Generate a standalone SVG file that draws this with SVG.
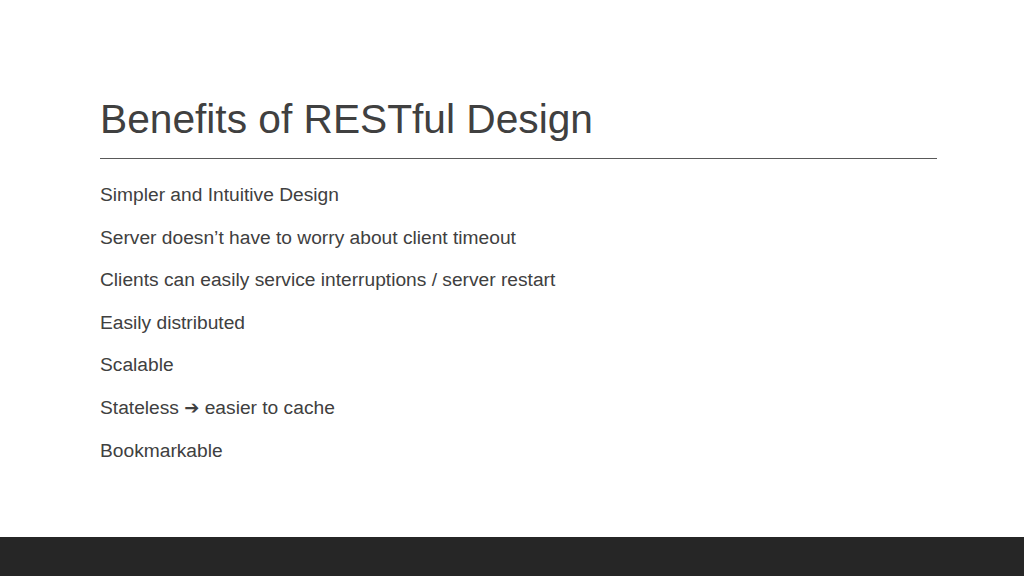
<svg xmlns="http://www.w3.org/2000/svg" width="1024" height="576" viewBox="0 0 1024 576">
<style>
.t{font-family:"Liberation Sans",Arial,sans-serif;font-size:40px;fill:#404040}
.b{font-family:"Liberation Sans",Arial,sans-serif;font-size:19.2px;fill:#404040}
</style>
<rect width="1024" height="576" fill="#ffffff"/>
<text class="t" x="100" y="133" textLength="493" lengthAdjust="spacingAndGlyphs">Benefits of RESTful Design</text>
<line x1="100" y1="158.5" x2="937" y2="158.5" stroke="#595959" stroke-width="1"/>
<g id="bullets">
<text class="b" x="100" y="201">Simpler and Intuitive Design</text>
<text class="b" x="100" y="244">Server doesn’t have to worry about client timeout</text>
<text class="b" x="100" y="286">Clients can easily service interruptions / server restart</text>
<text class="b" x="100" y="329">Easily distributed</text>
<text class="b" x="100" y="371">Scalable</text>
<text class="b" x="100" y="414">Stateless <tspan font-family="DejaVu Sans,sans-serif" font-size="18">➔</tspan> easier to cache</text>
<text class="b" x="100" y="457">Bookmarkable</text>
</g>
<rect x="0" y="537" width="1024" height="39" fill="#262626"/>
</svg>
